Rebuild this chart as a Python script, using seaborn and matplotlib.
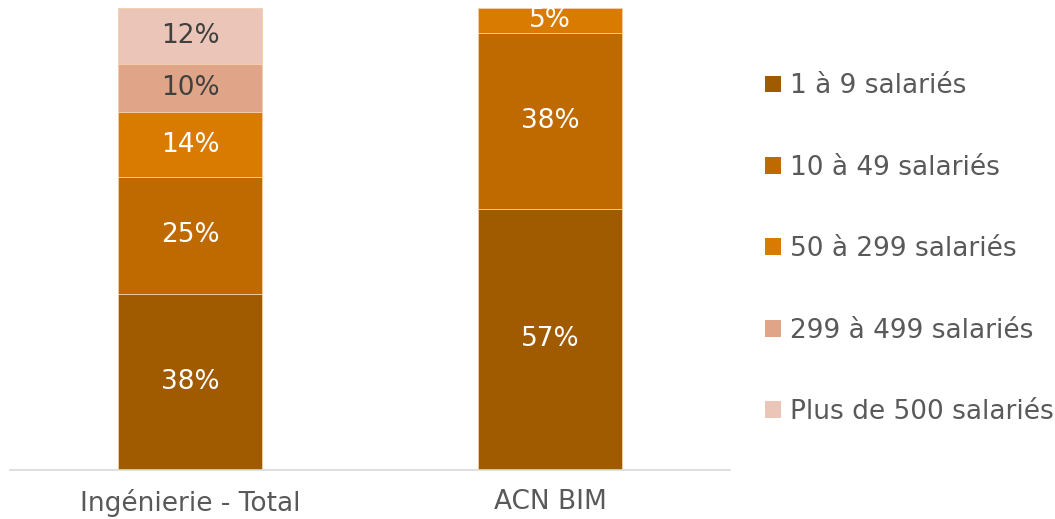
import numpy as np
import seaborn as sns
import matplotlib.pyplot as plt
from matplotlib.patches import Patch

categories = ["Ingénierie - Total", "ACN BIM"]
segments = ["1 à 9 salariés", "10 à 49 salariés", "50 à 299 salariés",
            "299 à 499 salariés", "Plus de 500 salariés"]
tranche_1_9 = [38.1, 56.6]
tranche_10_49 = [25.4, 38.0]
tranche_50_299 = [13.9, 5.4]
tranche_299_499 = [10.4, 0.0]
tranche_500_plus = [12.2, 0.0]

series = [tranche_1_9, tranche_10_49, tranche_50_299, tranche_299_499, tranche_500_plus]
colors = ["#A05A00", "#BE6A00", "#D97B00", "#E0A588", "#EBC5B7"]
label_colors = ["white", "white", "white", "#404040", "#404040"]

sns.set_style("white")
plt.rcParams["font.family"] = ["DejaVu Sans"]

fig = plt.figure(figsize=(10.55, 5.19), dpi=100)
ax = fig.add_axes([0.0095, 0.0944, 0.6825, 0.8902])

bottom = np.zeros(len(categories))
for vals, col, lab_col, name in zip(series, colors, label_colors, segments):
    vals = np.array(vals)
    sns.barplot(x=categories, y=vals, bottom=bottom, color=col, width=0.4,
                saturation=1, edgecolor="#F3CFA8", linewidth=0.6, ax=ax)
    for i, v in enumerate(vals):
        if v > 0:
            ax.text(i, bottom[i] + v / 2, f"{v:.0f}%", ha="center", va="center",
                    fontsize=19, color=lab_col)
    bottom += vals

ax.set_xlim(-0.5, 1.5)
ax.set_ylim(0, 100)
ax.set_yticks([])
ax.set_ylabel("")
for s in ["top", "right", "left"]:
    ax.spines[s].set_visible(False)
ax.spines["bottom"].set_color("#D9D9D9")
ax.spines["bottom"].set_linewidth(1.2)
ax.tick_params(axis="x", length=0, labelsize=19, labelcolor="#595959", pad=14)

handles = [Patch(facecolor=c, edgecolor="none") for c in colors]
fig.legend(handles, segments, loc="center left", bbox_to_anchor=(0.715, 0.52),
           frameon=False, fontsize=19, labelcolor="#595959",
           handlelength=0.6, handleheight=0.6, handletextpad=0.35,
           labelspacing=2.1, borderaxespad=0)

fig.savefig("out.png", dpi=100)
